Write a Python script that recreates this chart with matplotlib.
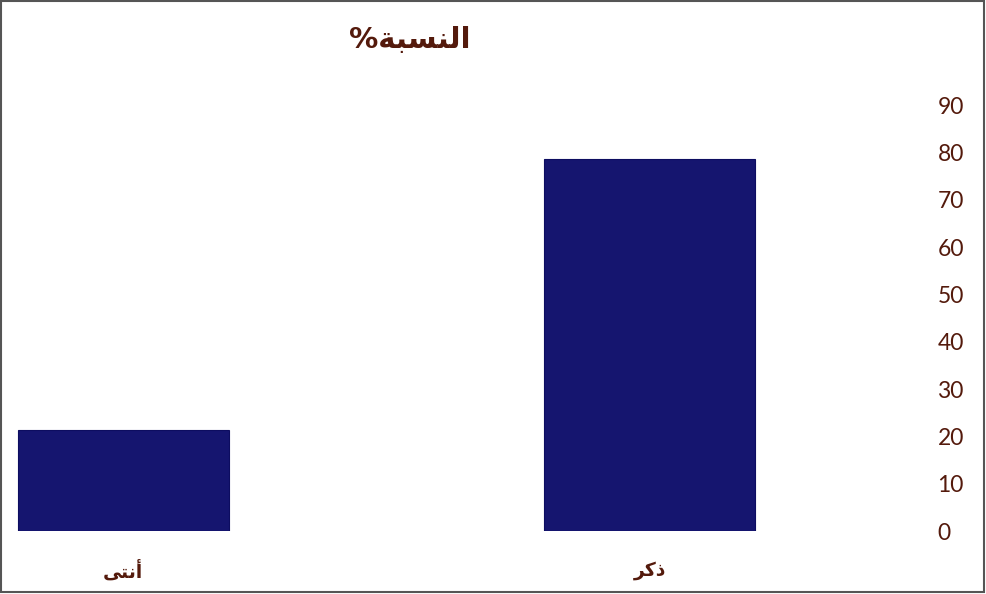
import matplotlib
matplotlib.use('Agg')
from matplotlib import pyplot as plt
from matplotlib.patches import Rectangle

# Arabic text written in presentation forms (visual order), since matplotlib does no shaping
title = "%\uFE94\uFE92\uFEB4\uFEE8\uFEDF\uFE8D"      # النسبة%
categories = ["\uFEF0\uFE98\uFEE7\uFE83",           # أنثى
              "\uFEAE\uFEDB\uFEAB"]                 # ذكر
values = [21.4, 78.6]
yticks = [0, 10, 20, 30, 40, 50, 60, 70, 80, 90]

text_col = "#541a0c"
bar_col = "#15156f"

fig = plt.figure(figsize=(9.86, 5.94), dpi=100)
ax = fig.add_axes([5/986, 63/594, 895/986, 426/594])

pos = list(range(len(categories)))
ax.bar(pos, values, width=0.4, color=bar_col, edgecolor="#0d0d60", linewidth=0.8)
ax.set_xlim(-0.2247, 1.4754)
ax.set_ylim(0, 90)

ax.yaxis.tick_right()
ax.set_yticks(yticks)
ax.set_yticklabels([str(t) for t in yticks], fontsize=16.5, color=text_col,
                   family=["Lato", "DejaVu Sans"], ha="left")
ax.tick_params(axis="y", length=0, pad=27)
ax.set_xticks([])
for s in ax.spines.values():
    s.set_visible(False)

# category labels below the bars
for p, c in zip(pos, categories):
    ax.annotate(c, xy=(p, 0), xytext=(0, -40), textcoords="offset pixels",
                ha="center", va="center", fontsize=13.5, fontweight="bold",
                color=text_col, family="DejaVu Sans", annotation_clip=False)

fig.text(410/986, 1 - 40/594, title, ha="center", va="center", fontsize=21,
         fontweight="bold", color=text_col, family="DejaVu Sans")

# frame around the whole picture
fig.patches.append(Rectangle((0.001, 0.003), 0.997, 0.995, transform=fig.transFigure,
                             fill=False, edgecolor="#555555", linewidth=1.5))

fig.savefig("out.png", dpi=100)
